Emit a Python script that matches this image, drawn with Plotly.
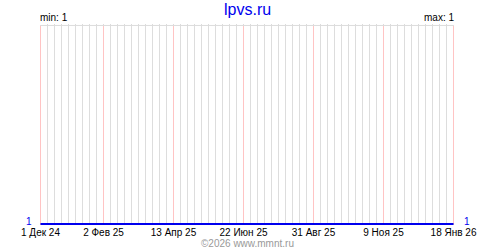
import plotly.graph_objects as go

dates = ["2024-12-01", "2026-01-18"]
values = [1, 1]
tick_dates = ["2024-12-01", "2025-02-02", "2025-04-13", "2025-06-22",
              "2025-08-31", "2025-11-09", "2026-01-18"]
tick_labels = ["1 Дек 24", "2 Фев 25", "13 Апр 25", "22 Июн 25",
               "31 Авг 25", "9 Ноя 25", "18 Янв 26"]
x_range = ["2024-11-30 12:00", "2026-01-18 12:00"]
y_top = 2
title_text = "lpvs.ru"
min_text = "min: 1"
max_text = "max: 1"
credit_text = "©2026 www.mmnt.ru"

FONT = "Liberation Sans"
BLUE = "#0000ee"
GRAY = "#dddddd"
PINK = "#ffc4c4"

fig = go.Figure()
fig.add_trace(go.Scatter(x=dates, y=values, mode="lines",
                         line=dict(color=BLUE, width=2),
                         hoverinfo="skip", showlegend=False))

# pink lines at labelled dates, gray line along the top of the plot
shapes = [dict(type="line", xref="x", yref="y", x0=d, x1=d, y0=0.99, y1=y_top,
               line=dict(color=PINK, width=1), layer="between")
          for d in tick_dates]
shapes.append(dict(type="line", xref="x", yref="y", x0=x_range[0], x1=x_range[1],
                   y0=y_top, y1=y_top, line=dict(color=GRAY, width=1), layer="between"))

fig.update_layout(
    width=500, height=250,
    margin=dict(l=40, r=46, t=24, b=23),
    paper_bgcolor="white", plot_bgcolor="white",
    font=dict(family=FONT, size=10, color="black"),
    xaxis=dict(
        type="date", range=x_range,
        tickvals=tick_dates, ticktext=tick_labels,
        showgrid=False,
        minor=dict(dtick=7 * 86400000, tick0="2024-12-01",
                   showgrid=True, gridcolor=GRAY, gridwidth=1),
        ticks="", showline=False, zeroline=False, fixedrange=True,
        tickfont=dict(family=FONT, size=10, color="black"),
    ),
    yaxis=dict(
        range=[0.99501, 2.00748], showgrid=False, showticklabels=False,
        zeroline=False, showline=False, ticks="", fixedrange=True,
    ),
    shapes=shapes,
    annotations=[
        dict(text=title_text, x=0.5, y=1, xref="paper", yref="paper",
             xanchor="center", yanchor="top", yshift=25, showarrow=False,
             font=dict(family=FONT, size=16, color=BLUE)),
        dict(text=min_text, x=0, y=y_top, xref="paper", yref="y",
             xanchor="left", yanchor="bottom", xshift=-2, yshift=0, showarrow=False,
             font=dict(family=FONT, size=10, color="black")),
        dict(text=max_text, x=1, y=y_top, xref="paper", yref="y",
             xanchor="right", yanchor="bottom", xshift=2, yshift=0, showarrow=False,
             font=dict(family=FONT, size=10, color="black")),
        dict(text="1", x=0, y=values[0], xref="paper", yref="y",
             xanchor="right", yanchor="middle", xshift=-6, yshift=3, showarrow=False,
             font=dict(family=FONT, size=10, color=BLUE)),
        dict(text="1", x=1, y=values[-1], xref="paper", yref="y",
             xanchor="left", yanchor="middle", xshift=8, yshift=3, showarrow=False,
             font=dict(family=FONT, size=10, color=BLUE)),
        dict(text=credit_text, x=0.5, y=0, xref="paper", yref="paper",
             xanchor="center", yanchor="top", yshift=-11, showarrow=False,
             font=dict(family=FONT, size=10, color="#999999")),
    ],
)

fig.write_html("out.html", config={"displayModeBar": False})
